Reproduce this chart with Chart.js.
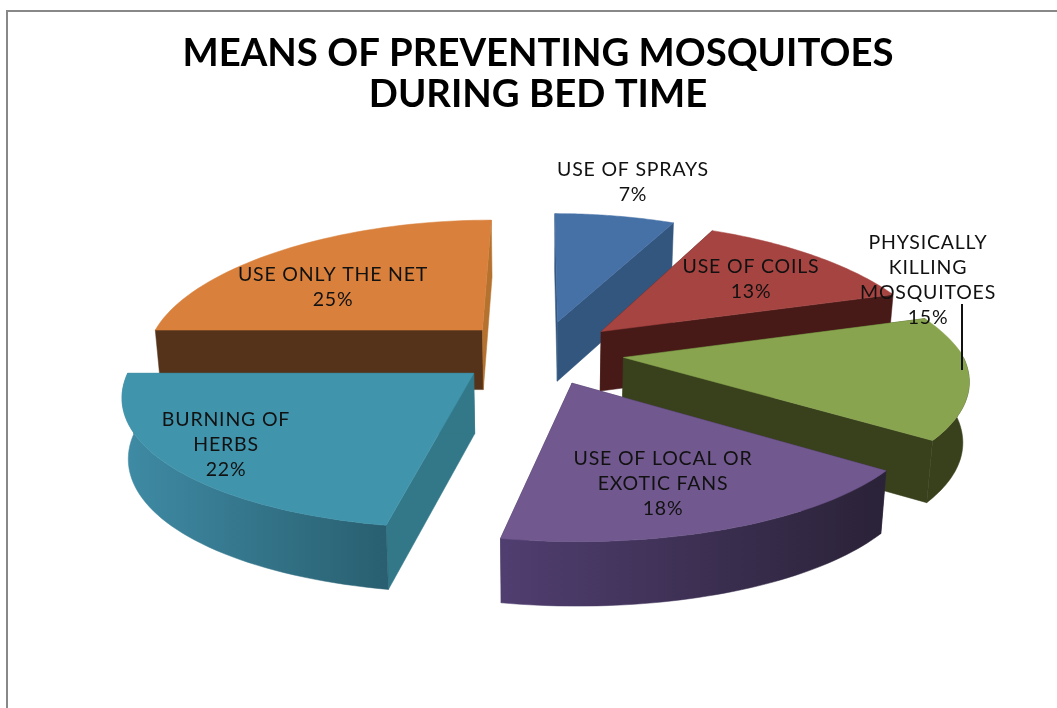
<!DOCTYPE html>
<html>
<head>
<meta charset="utf-8">
<title>Means of preventing mosquitoes during bed time</title>
<script src="https://cdn.jsdelivr.net/npm/chart.js@4"></script>
<style>
    html, body { margin: 0; padding: 0; background: #fff; overflow: hidden; }
    #chart-box { position: absolute; left: 0; top: 0; width: 1057px; height: 708px; }
    #frame { position: absolute; left: 6px; top: 10px; right: 0; bottom: 0;
             border-left: 2px solid #888; border-top: 2px solid #888; }
</style>
</head>
<body>
<div id="frame"></div>
<div id="chart-box"><canvas id="mosquito-pie"></canvas></div>
<script>
const TITLE_LINES = ['MEANS OF PREVENTING MOSQUITOES', 'DURING BED TIME'];
const CATEGORIES = [
    ['USE OF SPRAYS'],
    ['USE OF COILS'],
    ['PHYSICALLY', 'KILLING', 'MOSQUITOES'],
    ['USE OF LOCAL OR', 'EXOTIC FANS'],
    ['BURNING OF', 'HERBS'],
    ['USE ONLY THE NET']
];
const PERCENTAGES = [7, 13, 15, 18, 22, 25];

const TOP_COLORS = ['#4671a6', '#a64441', '#89a44e', '#71588f', '#4095ad', '#d9813c'];
const START_WALL_COLORS = ['#33567f', '#471a18', '#38401c', '#3a2c50', '#337888', '#55331a'];
const END_WALL_COLORS = ['#33567f', '#471a18', '#38401c', '#3a2c50', '#337888', '#b5722e'];
const RIM_LEFT_COLORS = ['#33567f', '#471a18', '#38401c', '#503e70', '#3f8ba5', '#55331a'];
const RIM_RIGHT_COLORS = ['#33567f', '#471a18', '#38401c', '#2a2237', '#295f70', '#55331a'];

// centre of the first text line of each label
const LABEL_ANCHORS = [[633, 170], [751, 267], [928, 243], [663, 459], [226, 420], [333, 275]];
const LABEL_LINE_HEIGHT = 25;

// camera for the tilted pie
const RIM_PX = 338;
const TILT = 0.383;
const CAMERA_DIST = 2636;
const FRONT_CAMERA_DIST = 2300;
const BACK_CAMERA_DIST = 1800;
const DEPTH_PX = 60;
const BOTTOM_SHRINK = 0.985;
const PIE_SHIFT_X = 2;
const PIE_SHIFT_Y = -4;

function project(el, dx, dy, lower) {
    const zoom = RIM_PX / el.outerRadius;
    const X = dx * zoom;
    const Y = dy * zoom;
    const p = CAMERA_DIST / (CAMERA_DIST - Y);
    // the far half narrows quicker than the near half widens
    const sideDist = Y < 0 ? BACK_CAMERA_DIST : FRONT_CAMERA_DIST;
    const px = sideDist / (sideDist - Y);
    const shrink = lower ? BOTTOM_SHRINK : 1;
    const depth = lower ? DEPTH_PX * (1 + 0.4 * (p - 1)) : 0;
    return {
        x: el.x + PIE_SHIFT_X + X * px * shrink,
        y: el.y + PIE_SHIFT_Y + TILT * Y * p + depth
    };
}

function fillPolygon(ctx, points, fill) {
    ctx.beginPath();
    points.forEach((pt, i) => i ? ctx.lineTo(pt.x, pt.y) : ctx.moveTo(pt.x, pt.y));
    ctx.closePath();
    ctx.fillStyle = fill;
    ctx.fill();
    ctx.strokeStyle = fill;
    ctx.lineWidth = 0.5;
    ctx.stroke();
}

function drawSlice(ctx, el, index) {
    const mid = (el.startAngle + el.endAngle) / 2;
    const shove = el.options.offset;
    const ox = Math.cos(mid) * shove;
    const oy = Math.sin(mid) * shove;

    const upperRim = [];
    const lowerRim = [];
    const frontUpper = [];
    const frontLower = [];
    const steps = 48;
    for (let i = 0; i <= steps; i++) {
        const a = el.startAngle + (el.endAngle - el.startAngle) * i / steps;
        const dx = ox + Math.cos(a) * el.outerRadius;
        const dy = oy + Math.sin(a) * el.outerRadius;
        const up = project(el, dx, dy, false);
        const low = project(el, dx, dy, true);
        upperRim.push(up);
        lowerRim.push(low);
        // only the part of the rim that faces the viewer
        if (Math.sin(a) >= 0) {
            frontUpper.push(up);
            frontLower.push(low);
        }
    }
    const apexUp = project(el, ox, oy, false);
    const apexLow = project(el, ox, oy, true);

    // the two cut faces
    fillPolygon(ctx, [apexUp, upperRim[0], lowerRim[0], apexLow], START_WALL_COLORS[index]);
    fillPolygon(ctx, [apexUp, upperRim[steps], lowerRim[steps], apexLow], END_WALL_COLORS[index]);

    // outer wall
    if (frontUpper.length > 1) {
        const xs = frontUpper.map(pt => pt.x);
        const rimFill = ctx.createLinearGradient(Math.min(...xs), 0, Math.max(...xs), 0);
        rimFill.addColorStop(0, RIM_LEFT_COLORS[index]);
        rimFill.addColorStop(1, RIM_RIGHT_COLORS[index]);
        fillPolygon(ctx, frontUpper.concat(frontLower.slice().reverse()), rimFill);
    }

    // top face
    fillPolygon(ctx, [apexUp].concat(upperRim), el.options.backgroundColor);
}

// Draws the pie controller's arcs as extruded wedges instead of flat ones
const extrudedPie = {
    id: 'extrudedPie',
    beforeDatasetDraw(chart, args) {
        const arcs = chart.getDatasetMeta(args.index).data;
        const order = arcs.map((el, i) => i).sort((a, b) => {
            const midA = (arcs[a].startAngle + arcs[a].endAngle) / 2;
            const midB = (arcs[b].startAngle + arcs[b].endAngle) / 2;
            return Math.sin(midA) - Math.sin(midB);
        });
        order.forEach(i => drawSlice(chart.ctx, arcs[i], i));
        return false;
    },
    afterDraw(chart) {
        const ctx = chart.ctx;
        ctx.save();

        // leader for the green slice
        ctx.strokeStyle = '#111';
        ctx.lineWidth = 2;
        ctx.beginPath();
        ctx.moveTo(962, 304);
        ctx.lineTo(962, 370);
        ctx.stroke();

        ctx.font = '19.5px Lato';
        ctx.letterSpacing = '0.8px';
        ctx.fillStyle = '#111';
        ctx.textAlign = 'center';
        ctx.textBaseline = 'middle';
        CATEGORIES.forEach((lines, i) => {
            const [x, y] = LABEL_ANCHORS[i];
            lines.concat(PERCENTAGES[i] + '%').forEach((line, n) => {
                ctx.fillText(line, x, y + n * LABEL_LINE_HEIGHT);
            });
        });
        ctx.restore();
    }
};

new Chart(document.getElementById('mosquito-pie'), {
    type: 'pie',
    data: {
        labels: CATEGORIES,
        datasets: [{
            data: PERCENTAGES,
            backgroundColor: TOP_COLORS,
            borderWidth: 0,
            offset: 51
        }]
    },
    options: {
        responsive: true,
        maintainAspectRatio: false,
        animation: false,
        layout: { padding: { left: 19, right: 0, top: 33, bottom: 121 } },
        plugins: {
            legend: { display: false },
            tooltip: { enabled: false },
            title: {
                display: true,
                text: TITLE_LINES,
                color: '#000',
                font: { family: 'Lato', size: 38.3, weight: 'bold', lineHeight: 1.08 },
                padding: { top: 0, bottom: 10 }
            }
        }
    },
    plugins: [extrudedPie]
});
</script>
</body>
</html>
